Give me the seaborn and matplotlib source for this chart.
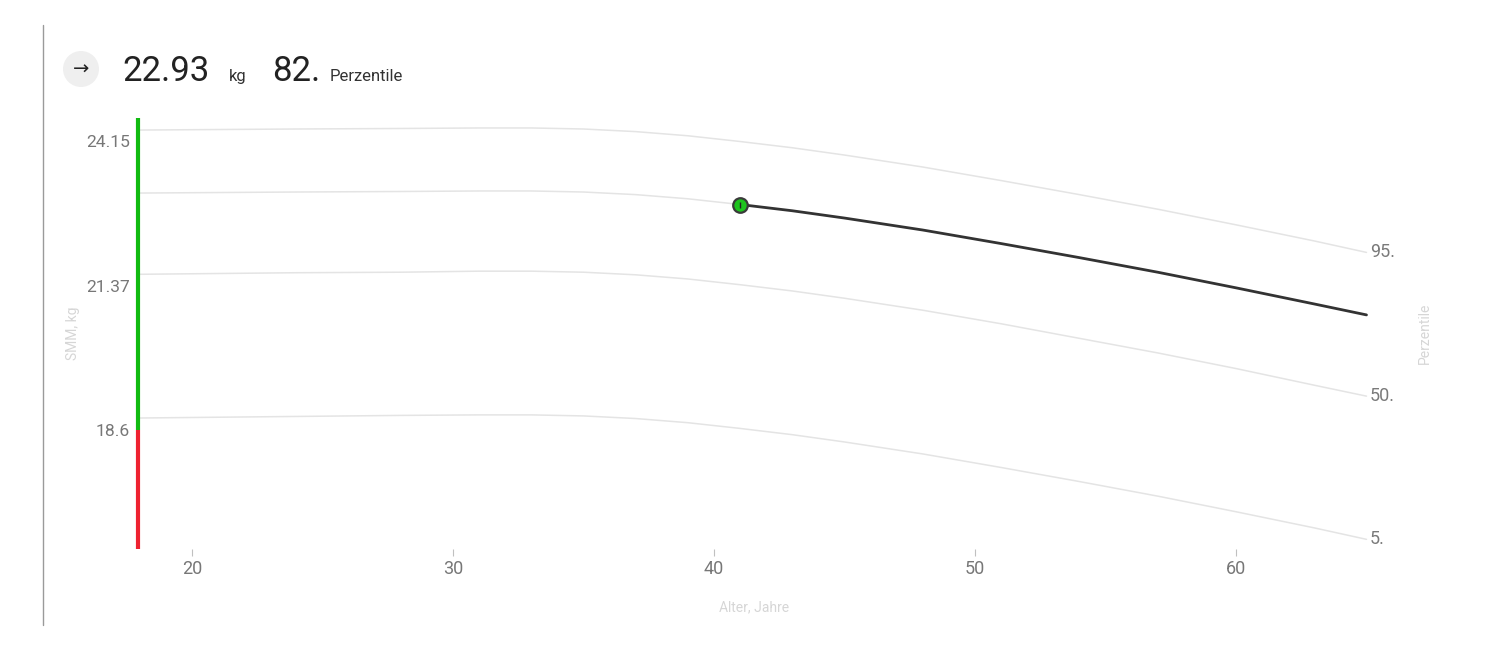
import matplotlib
matplotlib.use("Agg")
import matplotlib.pyplot as plt
from matplotlib.patches import Ellipse
from matplotlib.lines import Line2D
import seaborn as sns
import pandas as pd

# ---------------- data ----------------
ages = [18, 24, 28, 31, 33, 35, 37, 39, 41, 43, 45, 48, 51, 54, 57, 60, 63, 65]
p95 = [24.36, 24.38, 24.39, 24.40, 24.40, 24.38, 24.33, 24.25, 24.14, 24.02, 23.88, 23.65, 23.39, 23.12, 22.84, 22.54, 22.23, 22.01]
p82 = [23.15, 23.17, 23.18, 23.19, 23.19, 23.17, 23.12, 23.04, 22.93, 22.81, 22.67, 22.44, 22.18, 21.91, 21.63, 21.33, 21.02, 20.81]
p50 = [21.59, 21.62, 21.63, 21.65, 21.65, 21.63, 21.58, 21.50, 21.39, 21.27, 21.13, 20.90, 20.64, 20.36, 20.08, 19.78, 19.46, 19.25]
p05 = [18.83, 18.86, 18.88, 18.89, 18.89, 18.87, 18.82, 18.74, 18.63, 18.51, 18.37, 18.14, 17.88, 17.61, 17.33, 17.03, 16.72, 16.50]

user_age = 41
user_value = 22.93
user_percentile = "82."
unit = "kg"

pct_labels = ["95.", "50.", "5."]
y_ticks = [24.15, 21.37, 18.6]
y_tick_labels = ["24.15", "21.37", "18.6"]
x_ticks = [20, 30, 40, 50, 60]

range_bounds = [16.31, 18.6, 24.59]   # red: low..mid, green: mid..high
range_age = 17.92

# ---------------- style ----------------
sns.set_theme(style="white")
plt.rcParams["font.family"] = ["Roboto", "DejaVu Sans"]

fig = plt.figure(figsize=(15, 6.5), dpi=100)
W, H = 1500, 650
ax = fig.add_axes([134 / W, (H - 549) / H, (1400 - 134) / W, (549 - 110) / H])
ax.set_xlim(17.778, 66.284)
ax.set_ylim(16.3145, 24.745)

grey = "#e4e4e4"
for vals in (p95, p50, p05):
    sns.lineplot(x=ages, y=vals, ax=ax, color=grey, linewidth=1.1, estimator=None, sort=False)

df82 = pd.DataFrame({"age": ages, "val": p82})
sns.lineplot(data=df82[df82.age <= user_age], x="age", y="val", ax=ax, color=grey,
             linewidth=1.1, estimator=None, sort=False)
sns.lineplot(data=df82[df82.age >= user_age], x="age", y="val", ax=ax, color="#333333",
             linewidth=2.0, estimator=None, sort=False)

# marker
ax.scatter([user_age], [user_value], s=110, color="#1ec41e", edgecolor="#3a3a3a",
           linewidth=1.6, zorder=5)
ax.scatter([user_age], [user_value], s=25, marker="|", color="#222222", linewidth=1.0, zorder=6)

# range bar
ax.plot([range_age, range_age], [range_bounds[0], range_bounds[1]], color="#ee2230",
        linewidth=3, solid_capstyle="butt", clip_on=False, zorder=4)
ax.plot([range_age, range_age], [range_bounds[1], range_bounds[2]], color="#11bb11",
        linewidth=3, solid_capstyle="butt", clip_on=False, zorder=4)

# right-hand percentile labels
for vals, lab in zip((p95, p50, p05), pct_labels):
    ax.text(65.13, vals[-1], lab, ha="left", va="center", fontsize=13, color="#7a7a7a")

# ticks
ax.set_xticks(x_ticks)
ax.set_xticklabels([str(t) for t in x_ticks])
ax.set_yticks(y_ticks)
ax.set_yticklabels(y_tick_labels)
ax.tick_params(axis="x", length=5, width=0.8, color="#c0c0c0", pad=3, labelsize=13,
               labelcolor="#777777", bottom=True)
ax.tick_params(axis="y", length=0, pad=3, labelsize=12.6, labelcolor="#777777")
for s in ax.spines.values():
    s.set_visible(False)
ax.set_xlabel("")
ax.set_ylabel("")

# axis titles
fig.text(754 / W, 1 - 607 / H, "Alter, Jahre", ha="center", va="center", fontsize=10, color="#d6d6d6")
fig.text(73 / W, 1 - 333 / H, "SMM, kg", ha="center", va="center", rotation=90, fontsize=10, color="#d6d6d6")
fig.text(1425 / W, 1 - 333 / H, "Perzentile", ha="center", va="center", rotation=90, fontsize=10, color="#d6d6d6")

# header
fig.add_artist(Ellipse((81 / W, 1 - 69 / H), 36 / W, 36 / H, transform=fig.transFigure,
                       facecolor="#efefef", edgecolor="none"))
fig.text(81 / W, 1 - 69 / H, "→", ha="center", va="center", fontsize=14, color="#222222",
         family=["DejaVu Sans"])
fig.text(122 / W, 1 - 81 / H, f"{user_value:.2f}", ha="left", va="baseline", fontsize=25, color="#222222")
fig.text(229 / W, 1 - 81 / H, unit, ha="left", va="baseline", fontsize=12, color="#333333")
fig.text(272 / W, 1 - 81 / H, user_percentile, ha="left", va="baseline", fontsize=25, color="#222222")
fig.text(330 / W, 1 - 81 / H, "Perzentile", ha="left", va="baseline", fontsize=12, color="#333333")

# left border line
fig.add_artist(Line2D([43 / W, 43 / W], [1 - 25 / H, 1 - 625 / H], transform=fig.transFigure,
                      color="#9a9a9a", linewidth=1.0))

fig.savefig("out.png", dpi=100, facecolor="white")
